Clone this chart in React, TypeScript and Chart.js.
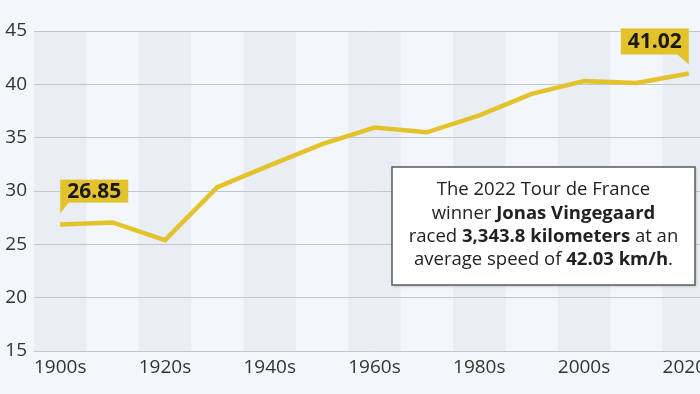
import React, { useEffect, useRef } from "react";
import { Chart, registerables } from "chart.js";

Chart.register(...registerables);

const decades = [
  "1900s", "1910s", "1920s", "1930s", "1940s", "1950s", "1960s",
  "1970s", "1980s", "1990s", "2000s", "2010s", "2020s",
];
const avgSpeed = [26.85, 27.05, 25.4, 30.35, 32.4, 34.4, 35.95, 35.5, 37.1, 39.1, 40.3, 40.12, 41.02];
const yMin = 15;
const yMax = 45;
const yStep = 5;
const firstCallout = "26.85";
const lastCallout = "41.02";
const noteLines: [string, boolean][][] = [
  [["The 2022 Tour de France", false]],
  [["winner ", false], ["Jonas Vingegaard", true]],
  [["raced ", false], ["3,343.8 kilometers", true], [" at an", false]],
  [["average speed of ", false], ["42.03 km/h", true], [".", false]],
];

const FONT = "'Open Sans', sans-serif";
const YELLOW = "#e3c22b";

const bandsPlugin = {
  id: "bands",
  beforeDraw(chart: any) {
    const { ctx, chartArea } = chart;
    const x = chart.scales.x;
    const half = (x.getPixelForValue(1) - x.getPixelForValue(0)) / 2;
    ctx.save();
    ctx.fillStyle = "#e9eef5";
    decades.forEach((_, i) => {
      if (i % 2 === 0) {
        const c = x.getPixelForValue(i);
        ctx.fillRect(c - half, chartArea.top, half * 2, chartArea.bottom - chartArea.top);
      }
    });
    ctx.restore();
  },
};

function callout(ctx: any, text: string, px: number, py: number, side: "left" | "right", gap: number, h: number) {
  ctx.save();
  ctx.font = `bold 21px ${FONT}`;
  const w = ctx.measureText(text).width + 14;
  const bottom = py - gap;
  const top = bottom - h;
  const left = side === "left" ? px : px - w;
  ctx.fillStyle = YELLOW;
  ctx.fillRect(left, top, w, h);
  ctx.beginPath();
  if (side === "left") {
    ctx.moveTo(px, bottom - 0.5);
    ctx.lineTo(px + 9, bottom - 0.5);
    ctx.lineTo(px, bottom + 11);
  } else {
    ctx.moveTo(px - 12, bottom - 0.5);
    ctx.lineTo(px, bottom - 0.5);
    ctx.lineTo(px, bottom + 10);
  }
  ctx.closePath();
  ctx.fill();
  ctx.fillStyle = "#1a1a1a";
  ctx.textAlign = "center";
  ctx.textBaseline = "middle";
  ctx.fillText(text, left + w / 2, top + h / 2 + 1);
  ctx.restore();
}

const annotationsPlugin = {
  id: "annotations",
  afterDraw(chart: any) {
    const { ctx } = chart;
    const x = chart.scales.x;
    const y = chart.scales.y;
    const n = avgSpeed.length - 1;
    callout(ctx, firstCallout, x.getPixelForValue(0), y.getPixelForValue(avgSpeed[0]), "left", 22, 23);
    callout(ctx, lastCallout, x.getPixelForValue(n), y.getPixelForValue(avgSpeed[n]), "right", 19, 26);

    // note box
    const bx = 392, by = 167, bw = 303, bh = 118;
    ctx.save();
    ctx.shadowColor = "rgba(0,0,0,0.25)";
    ctx.shadowBlur = 3;
    ctx.shadowOffsetX = 1;
    ctx.shadowOffsetY = 1;
    ctx.fillStyle = "#ffffff";
    ctx.fillRect(bx, by, bw, bh);
    ctx.shadowColor = "transparent";
    ctx.strokeStyle = "#5c5c5c";
    ctx.lineWidth = 1.5;
    ctx.strokeRect(bx, by, bw, bh);
    ctx.fillStyle = "#222222";
    ctx.textBaseline = "middle";
    ctx.textAlign = "left";
    const cx = bx + bw / 2;
    const lineH = 23.2;
    const startY = by + bh / 2 - (lineH * (noteLines.length - 1)) / 2 - 1;
    noteLines.forEach((runs, li) => {
      let total = 0;
      const widths = runs.map(([t, b]) => {
        ctx.font = `${b ? "bold " : ""}18.5px ${FONT}`;
        const w = ctx.measureText(t).width;
        total += w;
        return w;
      });
      let cur = cx - total / 2;
      runs.forEach(([t, b], ri) => {
        ctx.font = `${b ? "bold " : ""}18.5px ${FONT}`;
        ctx.fillText(t, cur, startY + li * lineH);
        cur += widths[ri];
      });
    });
    ctx.restore();
  },
};

export default function App() {
  const ref = useRef<HTMLCanvasElement>(null);
  useEffect(() => {
    if (!ref.current) return;
    const chart = new Chart(ref.current, {
      type: "line",
      data: {
        labels: decades,
        datasets: [
          {
            data: avgSpeed,
            borderColor: YELLOW,
            borderWidth: 4.5,
            pointRadius: 0,
            tension: 0,
            fill: false,
          },
        ],
      },
      options: {
        responsive: false,
        animation: false,
        devicePixelRatio: 1,
        layout: { padding: { top: 31, right: 15, left: 0, bottom: 0 } },
        plugins: { legend: { display: false }, tooltip: { enabled: false } },
        scales: {
          x: {
            type: "category",
            offset: true,
            grid: { display: false, drawTicks: false },
            border: { display: false },
            ticks: {
              autoSkip: false,
              maxRotation: 0,
              padding: 5,
              color: "#333333",
              font: { family: FONT, size: 19 },
              callback: (_v: any, i: number) => (i % 2 === 0 ? decades[i] : ""),
            },
            afterFit: (s: any) => {
              s.height = 43;
            },
          },
          y: {
            min: yMin,
            max: yMax,
            ticks: {
              stepSize: yStep,
              padding: 7,
              color: "#333333",
              font: { family: FONT, size: 19 },
            },
            grid: { color: "#c3c7cd", lineWidth: 1, drawTicks: false },
            border: { display: false },
            afterFit: (s: any) => {
              s.width = 34;
            },
          },
        },
      },
      plugins: [bandsPlugin, annotationsPlugin],
    });
    return () => chart.destroy();
  }, []);
  return (
    <div
      style={{
        position: "fixed",
        left: 0,
        top: 0,
        width: 700,
        height: 394,
        overflow: "hidden",
        background: "#f3f6fa",
      }}
    >
      <canvas ref={ref} width={730} height={394} style={{ display: "block" }} />
    </div>
  );
}
